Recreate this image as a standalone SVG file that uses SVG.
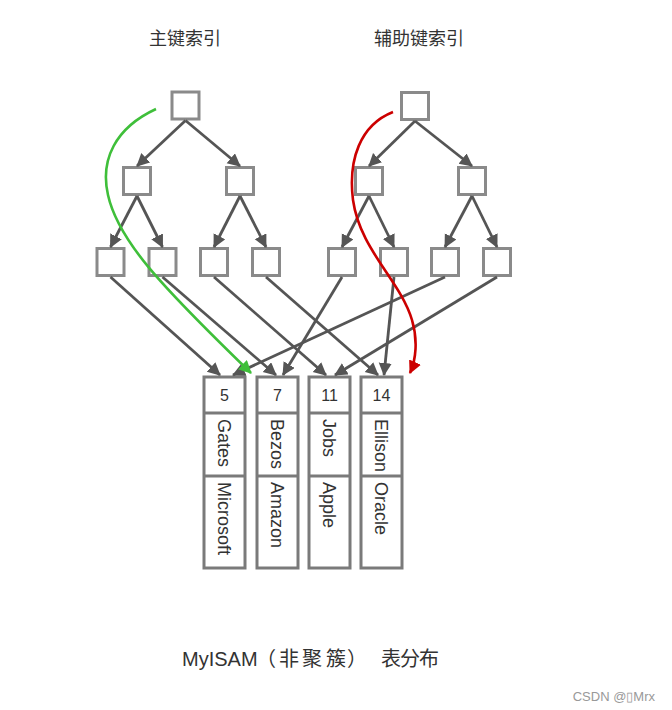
<svg xmlns="http://www.w3.org/2000/svg" width="672" height="710" viewBox="0 0 672 710">
<style>
.box{fill:#fff;stroke:#8a8a8a;stroke-width:3}
.rec{fill:#fff;stroke:#7a7a7a;stroke-width:3}
.div{stroke:#7a7a7a;stroke-width:3}
.ar{fill:none;stroke:#555;stroke-width:2.8}
.num{font-family:"Liberation Sans",Arial,sans-serif;font-size:16px;fill:#333;text-anchor:middle}
.nm{font-family:"Liberation Sans",Arial,sans-serif;font-size:18px;fill:#333}
.ttl{font-family:"Liberation Sans","Noto Sans CJK SC",sans-serif;font-size:18px;fill:#333;text-anchor:middle}
.cap{font-family:"Liberation Sans","Noto Sans CJK SC",sans-serif;font-size:20px;fill:#333}
</style>
<defs>
<marker id="ah" markerUnits="userSpaceOnUse" markerWidth="15" markerHeight="15" refX="12" refY="6.5" orient="auto"><path d="M0,0 L13,6.5 L0,13 z" fill="#555"/></marker>
<marker id="ahg" markerUnits="userSpaceOnUse" markerWidth="15" markerHeight="15" refX="12" refY="6.5" orient="auto"><path d="M0,0 L13,6.5 L0,13 z" fill="#3fbf3a"/></marker>
<marker id="ahr" markerUnits="userSpaceOnUse" markerWidth="15" markerHeight="15" refX="12" refY="6.5" orient="auto"><path d="M0,0 L13,6.5 L0,13 z" fill="#cc0000"/></marker>
</defs>
<rect width="672" height="710" fill="#fff"/>
<text class="ttl" x="185" y="45">主键索引</text>
<text class="ttl" x="419" y="45">辅助键索引</text>
<g id="left-tree">
<rect id="l-root" class="box" x="172" y="92" width="27" height="27"/>
<rect id="l-a" class="box" x="123.5" y="167.5" width="27" height="27"/>
<rect id="l-b" class="box" x="226.5" y="167.5" width="27" height="27"/>
<rect id="l-1" class="box" x="97" y="248.5" width="27" height="27"/>
<rect id="l-2" class="box" x="149" y="248.5" width="27" height="27"/>
<rect id="l-3" class="box" x="200.5" y="248.5" width="27" height="27"/>
<rect id="l-4" class="box" x="252.5" y="248.5" width="27" height="27"/>
</g>
<g id="right-tree">
<rect id="r-root" class="box" x="401.5" y="92.5" width="27" height="27"/>
<rect id="r-a" class="box" x="355.5" y="167.5" width="27" height="27"/>
<rect id="r-b" class="box" x="458.5" y="167.5" width="27" height="27"/>
<rect id="r-1" class="box" x="328.5" y="248.5" width="27" height="27"/>
<rect id="r-2" class="box" x="380.5" y="248.5" width="27" height="27"/>
<rect id="r-3" class="box" x="431.5" y="248.5" width="27" height="27"/>
<rect id="r-4" class="box" x="483.5" y="248.5" width="27" height="27"/>
</g>
<g id="rec-5">
<rect class="rec" x="204" y="377" width="41" height="191"/>
<line class="div" x1="204" y1="413" x2="245" y2="413"/><line class="div" x1="204" y1="476" x2="245" y2="476"/>
<text class="num" x="224.5" y="401">5</text>
<text class="nm" transform="translate(218,419) rotate(90)">Gates</text>
<text class="nm" transform="translate(218,482) rotate(90)">Microsoft</text>
</g>
<g id="rec-7">
<rect class="rec" x="257" y="377" width="41" height="191"/>
<line class="div" x1="257" y1="413" x2="298" y2="413"/><line class="div" x1="257" y1="476" x2="298" y2="476"/>
<text class="num" x="277.5" y="401">7</text>
<text class="nm" transform="translate(271,419) rotate(90)">Bezos</text>
<text class="nm" transform="translate(271,482) rotate(90)">Amazon</text>
</g>
<g id="rec-11">
<rect class="rec" x="309" y="377" width="41" height="191"/>
<line class="div" x1="309" y1="413" x2="350" y2="413"/><line class="div" x1="309" y1="476" x2="350" y2="476"/>
<text class="num" x="329.5" y="401">11</text>
<text class="nm" transform="translate(323,419) rotate(90)">Jobs</text>
<text class="nm" transform="translate(323,482) rotate(90)">Apple</text>
</g>
<g id="rec-14">
<rect class="rec" x="361" y="377" width="41" height="191"/>
<line class="div" x1="361" y1="413" x2="402" y2="413"/><line class="div" x1="361" y1="476" x2="402" y2="476"/>
<text class="num" x="381.5" y="401">14</text>
<text class="nm" transform="translate(375,419) rotate(90)">Ellison</text>
<text class="nm" transform="translate(375,482) rotate(90)">Oracle</text>
</g>
<g id="connectors">
<g marker-end="url(#ah)" class="ar">
<line x1="185.5" y1="120.5" x2="137" y2="166"/>
<line x1="185.5" y1="120.5" x2="240" y2="166"/>
<line x1="137" y1="196" x2="110.5" y2="247"/>
<line x1="137" y1="196" x2="162.5" y2="247"/>
<line x1="240" y1="196" x2="214" y2="247"/>
<line x1="240" y1="196" x2="266" y2="247"/>
<line x1="415" y1="121" x2="369" y2="166"/>
<line x1="415" y1="121" x2="472" y2="166"/>
<line x1="369" y1="196" x2="342" y2="247"/>
<line x1="369" y1="196" x2="394" y2="247"/>
<line x1="472" y1="196" x2="445" y2="247"/>
<line x1="472" y1="196" x2="497" y2="247"/>
<line x1="110.5" y1="277" x2="220" y2="375"/>
<line x1="162.5" y1="277" x2="276" y2="375"/>
<line x1="214" y1="277" x2="326" y2="375"/>
<line x1="266" y1="277" x2="378" y2="375"/>
<line x1="342" y1="277" x2="283" y2="375"/>
<line x1="394" y1="277" x2="384" y2="375"/>
<line x1="445" y1="277" x2="233" y2="375"/>
<line x1="497" y1="277" x2="335" y2="375"/>
</g>
<path d="M156,109 C115,128 100,160 108,195 C118,240 160,285 251,373" fill="none" stroke="#3fbf3a" stroke-width="2.6" marker-end="url(#ahg)"/>
<path d="M393,112 C360,125 348,160 353,200 C360,250 400,280 412,320 C418,340 416,360 410,373" fill="none" stroke="#cc0000" stroke-width="2.6" marker-end="url(#ahr)"/>
</g>
<text class="cap" y="666"><tspan x="182">MyISAM</tspan><tspan x="256">（</tspan><tspan x="279">非</tspan><tspan x="302">聚</tspan><tspan x="326">簇</tspan><tspan x="347">）</tspan><tspan x="381">表</tspan><tspan x="400">分</tspan><tspan x="419">布</tspan></text>
<text x="655" y="701" font-family="Liberation Sans,Arial,sans-serif" font-size="13" fill="#999" text-anchor="end">CSDN @▯Mrx</text>
</svg>
